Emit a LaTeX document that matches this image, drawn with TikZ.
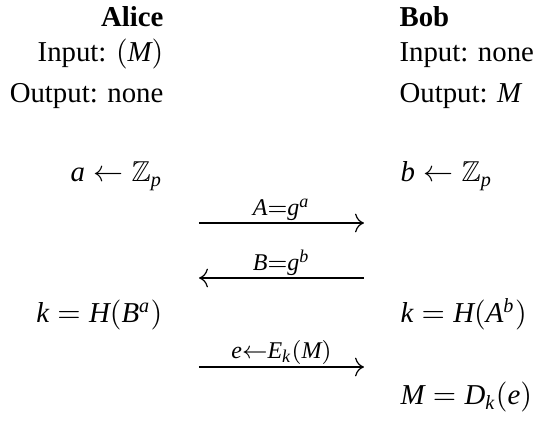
\documentclass[tikz,border=0pt]{standalone}
\usepackage{amssymb}
\usetikzlibrary{arrows.meta}
\usepackage{fontspec}
\setmainfont{Liberation Serif}
\DeclareSymbolFont{letters}{TU}{\rmdefault}{m}{it}
\begin{document}
\begin{tikzpicture}[x=0.3333pt,y=-0.3333pt,
  font=\fontsize{9.6pt}{11.5pt}\selectfont,
  lt/.style={anchor=base east,inner sep=0pt},
  rt/.style={anchor=base west,inner sep=0pt},
  msg/.style={line width=0.4pt,-{To[scale=1.2]}},
  lbl/.style={above,inner sep=0.6pt,font=\footnotesize}]
\useasboundingbox (0,0) rectangle (534,421);
% Alice column
\node[lt] (alice) at (164,27) {\textbf{Alice}};
\node[lt] (ain) at (164,62) {Input: $(M)$};
\node[lt] (aout) at (164,103) {Output: none};
\node[lt] (a1) at (163,182) {$a \leftarrow \mathbb{Z}_p$};
\node[lt] (a2) at (163,323) {$k = H(B^a)$};
% Bob column
\node[rt] (bob) at (399,27) {\textbf{Bob}};
\node[rt] (bin) at (399,62) {Input: none};
\node[rt] (bout) at (399,103) {Output: $M$};
\node[rt] (b1) at (400,182) {$b \leftarrow \mathbb{Z}_p$};
\node[rt] (b2) at (400,323) {$k = H(A^b)$};
\node[rt] (b3) at (400,405) {$M = D_k(e)$};
% messages
\coordinate (m1l) at (199,223);
\coordinate (m1r) at (364,223);
\coordinate (m2l) at (199,278);
\coordinate (m2r) at (364,278);
\coordinate (m3l) at (199,367);
\coordinate (m3r) at (364,367);
\draw[msg] (m1l) -- node[lbl] (l1) {$A{=}g^a$} (m1r);
\draw[msg] (m2r) -- node[lbl] (l2) {$B{=}g^b$} (m2l);
\draw[msg] (m3l) -- node[lbl] (l3) {$e{\leftarrow}E_k(M)$} (m3r);
\end{tikzpicture}
\end{document}
